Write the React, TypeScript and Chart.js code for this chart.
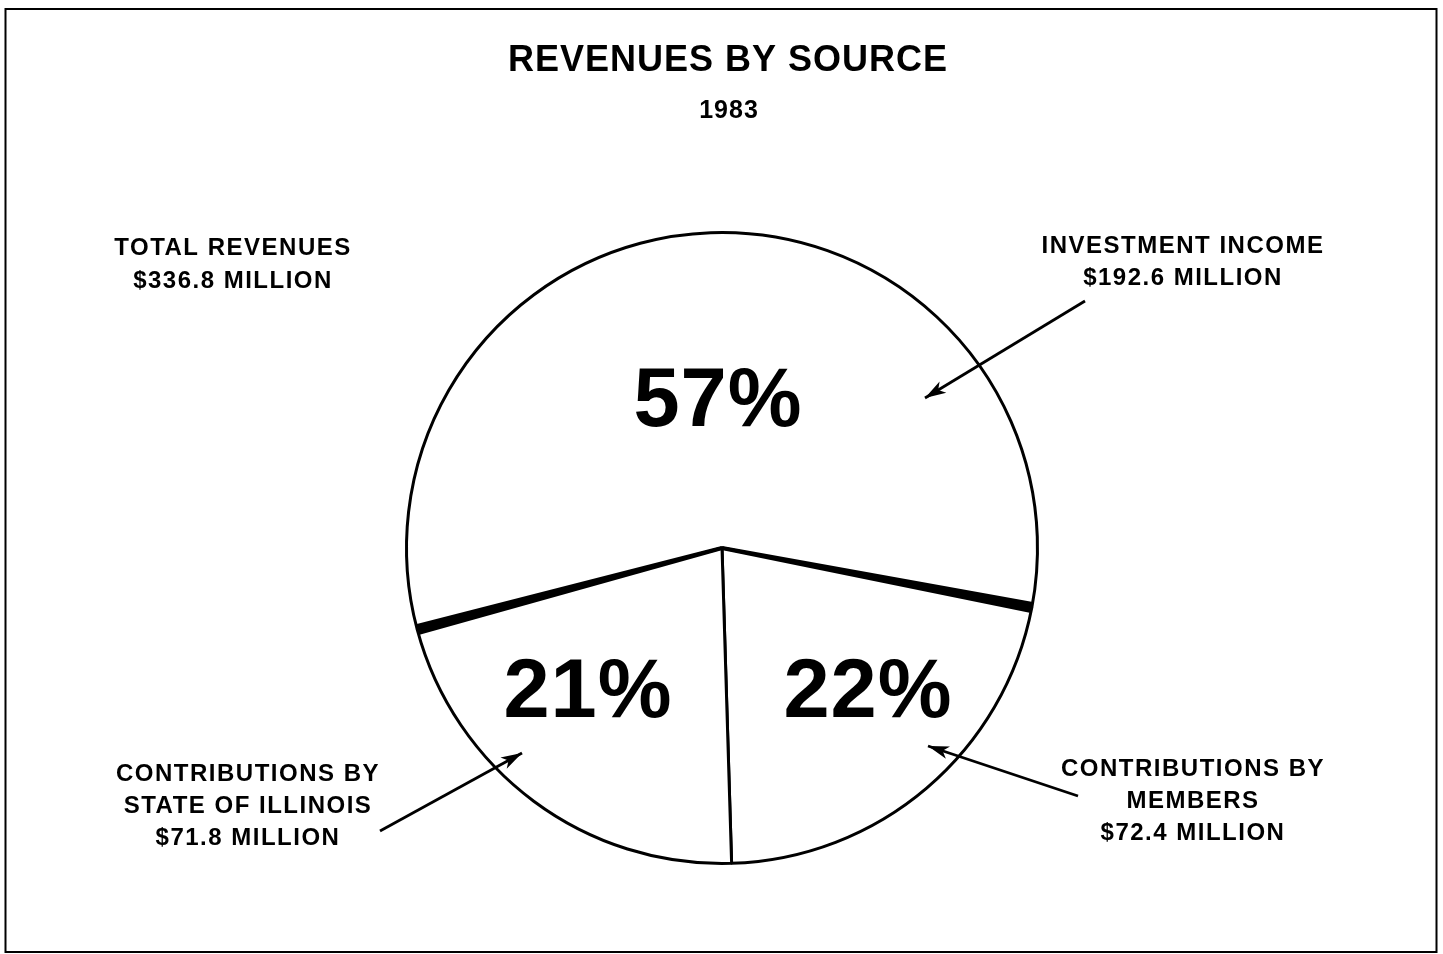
import React, { useEffect, useRef } from "react";
import { Chart, registerables } from "chart.js";

Chart.register(...registerables);

// ---- data ----
const categories = ["INVESTMENT INCOME", "CONTRIBUTIONS BY MEMBERS", "CONTRIBUTIONS BY STATE OF ILLINOIS"];
const revenues = [192.6, 72.4, 71.8]; // $ millions
const pctLabels = ["57%", "22%", "21%"];
const calloutHeads = [["INVESTMENT INCOME"], ["CONTRIBUTIONS BY", "MEMBERS"], ["CONTRIBUTIONS BY", "STATE OF ILLINOIS"]];
const totalRevenue = 336.8;
const titleText = "REVENUES BY SOURCE";
const yearText = "1983";

// ---- layout (offsets from pie centre) ----
const pctOffsets = [[-4, -145], [146, 146], [-134, 146]];
const calloutOffsets = [[461, -302], [471, 221], [-474, 226]];
const arrowOffsets = [
  [[363, -247], [203, -150]],
  [[356, 248], [206, 198]],
  [[-342, 283], [-200, 205]],
];
const totalOffset = [-489, -300];

const FONT = '"Liberation Sans", Arial, Helvetica, sans-serif';

function drawArrow(ctx: CanvasRenderingContext2D, x1: number, y1: number, x2: number, y2: number) {
  ctx.save();
  ctx.strokeStyle = "#000";
  ctx.fillStyle = "#000";
  ctx.lineWidth = 2.8;
  ctx.beginPath();
  ctx.moveTo(x1, y1);
  ctx.lineTo(x2, y2);
  ctx.stroke();
  const a = Math.atan2(y2 - y1, x2 - x1);
  const len = 22;
  const spread = 0.3;
  ctx.beginPath();
  ctx.moveTo(x2, y2);
  ctx.lineTo(x2 - len * Math.cos(a - spread), y2 - len * Math.sin(a - spread));
  ctx.lineTo(x2 - len * 0.7 * Math.cos(a), y2 - len * 0.7 * Math.sin(a));
  ctx.lineTo(x2 - len * Math.cos(a + spread), y2 - len * Math.sin(a + spread));
  ctx.closePath();
  ctx.fill();
  ctx.restore();
}

function drawWedge(ctx: CanvasRenderingContext2D, cx: number, cy: number, r: number, ang: number) {
  const ux = Math.cos(ang), uy = Math.sin(ang);
  const nx = -uy, ny = ux;
  const w0 = 2, w1 = 5.5;
  ctx.save();
  ctx.fillStyle = "#000";
  ctx.beginPath();
  ctx.moveTo(cx + nx * w0, cy + ny * w0);
  ctx.lineTo(cx + ux * r + nx * w1, cy + uy * r + ny * w1);
  ctx.lineTo(cx + ux * r - nx * w1, cy + uy * r - ny * w1);
  ctx.lineTo(cx - nx * w0, cy - ny * w0);
  ctx.closePath();
  ctx.fill();
  ctx.restore();
}

const decorPlugin = {
  id: "decor",
  beforeDraw(chart: any) {
    const ctx = chart.ctx;
    ctx.save();
    ctx.fillStyle = "#fff";
    ctx.fillRect(0, 0, chart.width, chart.height);
    ctx.restore();
  },
  afterDraw(chart: any) {
    const ctx: CanvasRenderingContext2D = chart.ctx;
    const meta = chart.getDatasetMeta(0);
    const arcs = meta.data;
    const inv = arcs[0];
    const cx = inv.x, cy = inv.y, r = inv.outerRadius;

    // thick dividers at investment slice edges
    drawWedge(ctx, cx, cy, r, inv.startAngle);
    drawWedge(ctx, cx, cy, r, inv.endAngle);

    // frame
    ctx.save();
    ctx.strokeStyle = "#000";
    ctx.lineWidth = 2;
    ctx.strokeRect(5.5, 9, 1431, 943);
    ctx.restore();

    ctx.save();
    ctx.fillStyle = "#000";
    ctx.textAlign = "center";
    ctx.textBaseline = "middle";

    // title
    ctx.font = `bold 36px ${FONT}`;
    (ctx as any).letterSpacing = "1px";
    ctx.fillText(titleText, 728, 61);
    ctx.font = `bold 25px ${FONT}`;
    (ctx as any).letterSpacing = "1px";
    ctx.fillText(yearText, 729, 111);

    // percentages
    ctx.font = `bold 83px ${FONT}`;
    (ctx as any).letterSpacing = "1px";
    pctLabels.forEach((t, i) => {
      ctx.fillText(t, cx + pctOffsets[i][0], cy + pctOffsets[i][1]);
    });

    // callouts
    ctx.font = `bold 24px ${FONT}`;
    (ctx as any).letterSpacing = "1.5px";
    const lh = 32;
    calloutHeads.forEach((head, i) => {
      const lines = [...head, `$${revenues[i].toFixed(1)} MILLION`];
      lines.forEach((ln, j) => {
        ctx.fillText(ln, cx + calloutOffsets[i][0], cy + calloutOffsets[i][1] + j * lh);
      });
    });
    ctx.fillText("TOTAL REVENUES", cx + totalOffset[0], cy + totalOffset[1]);
    ctx.fillText(`$${totalRevenue.toFixed(1)} MILLION`, cx + totalOffset[0], cy + totalOffset[1] + 33);
    ctx.restore();

    arrowOffsets.forEach(([[x1, y1], [x2, y2]]) => {
      drawArrow(ctx, cx + x1, cy + y1, cx + x2, cy + y2);
    });
  },
};

export default function App() {
  const ref = useRef<HTMLCanvasElement | null>(null);
  useEffect(() => {
    if (!ref.current) return;
    const chart = new Chart(ref.current, {
      type: "pie",
      data: {
        labels: categories,
        datasets: [
          {
            data: revenues,
            backgroundColor: "#ffffff",
            borderColor: "#000000",
            borderWidth: 3,
          },
        ],
      },
      options: {
        responsive: false,
        animation: false,
        devicePixelRatio: 1,
        rotation: 255,
        layout: { padding: { top: 231, bottom: 89, left: 1, right: 0 } },
        plugins: {
          legend: { display: false },
          tooltip: { enabled: false },
          title: { display: false },
        },
      },
      plugins: [decorPlugin],
    });
    return () => chart.destroy();
  }, []);
  return (
    <canvas
      ref={ref}
      width={1443}
      height={954}
      style={{ position: "absolute", left: 0, top: 0, display: "block" }}
    />
  );
}
